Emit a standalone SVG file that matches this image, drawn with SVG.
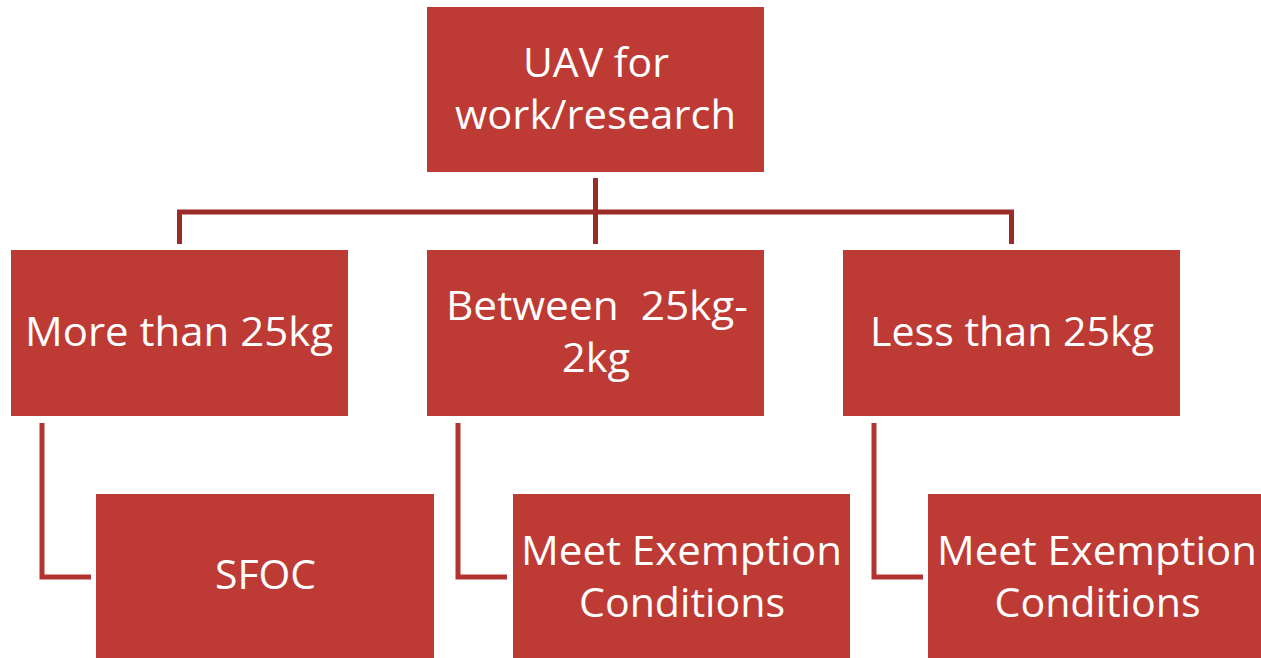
<svg xmlns="http://www.w3.org/2000/svg" width="1261" height="658" viewBox="0 0 1261 658">
<style>
.box{fill:#BE3A34}
.t{font-family:"Open Sans","Liberation Sans",sans-serif;font-size:40px;fill:#FFFFFF;text-anchor:middle}
.c1{fill:none;stroke:#9B2B27;stroke-width:5;stroke-linejoin:miter}
.c2{fill:none;stroke:#B13431;stroke-width:5;stroke-linejoin:miter}
</style>
<rect width="1261" height="658" fill="#FFFFFF"/>
<g id="connectors">
<path class="c1" d="M595.5,178 V244"/>
<path class="c1" d="M179.5,244 V212 H1011.5 V244"/>
<path class="c2" d="M42,423 V577 H91"/>
<path class="c2" d="M458,423 V577 H507"/>
<path class="c2" d="M874,423 V577 H923"/>
</g>
<g id="root">
<rect class="box" x="427" y="7" width="337" height="165"/>
<text class="t" x="596" y="76.5" textLength="146" lengthAdjust="spacingAndGlyphs">UAV for</text>
<text class="t" x="595.5" y="128.5" textLength="281" lengthAdjust="spacingAndGlyphs">work/research</text>
</g>
<g id="more25">
<rect class="box" x="11" y="250" width="337" height="166"/>
<text class="t" x="179" y="346" textLength="308" lengthAdjust="spacingAndGlyphs">More than 25kg</text>
</g>
<g id="between">
<rect class="box" x="427" y="250" width="337" height="166"/>
<text class="t" x="597" y="319.5" textLength="302" lengthAdjust="spacingAndGlyphs" xml:space="preserve">Between  25kg-</text>
<text class="t" x="596" y="372" textLength="68" lengthAdjust="spacingAndGlyphs">2kg</text>
</g>
<g id="less25">
<rect class="box" x="843" y="250" width="337" height="166"/>
<text class="t" x="1012" y="346" textLength="284" lengthAdjust="spacingAndGlyphs">Less than 25kg</text>
</g>
<g id="sfoc">
<rect class="box" x="96" y="494" width="338" height="170"/>
<text class="t" x="265.5" y="588.5" textLength="101" lengthAdjust="spacingAndGlyphs">SFOC</text>
</g>
<g id="exempt1">
<rect class="box" x="513" y="494" width="337" height="170"/>
<text class="t" x="681.5" y="565" textLength="321" lengthAdjust="spacingAndGlyphs">Meet Exemption</text>
<text class="t" x="682" y="617" textLength="206" lengthAdjust="spacingAndGlyphs">Conditions</text>
</g>
<g id="exempt2">
<rect class="box" x="928" y="494" width="340" height="170"/>
<text class="t" x="1097" y="565" textLength="320" lengthAdjust="spacingAndGlyphs">Meet Exemption</text>
<text class="t" x="1097.5" y="617" textLength="206" lengthAdjust="spacingAndGlyphs">Conditions</text>
</g>
</svg>
